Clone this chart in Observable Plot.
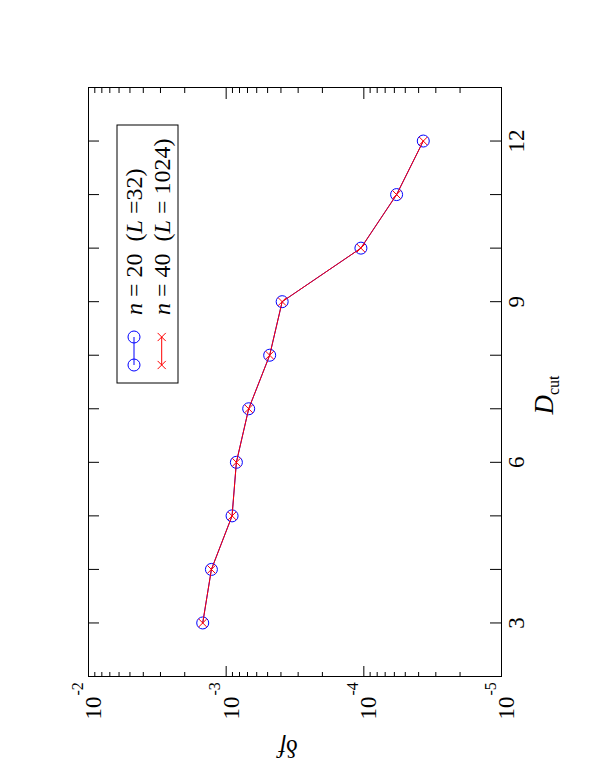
<!DOCTYPE html>
<html>
<head>
<meta charset="utf-8">
<script src="https://cdn.jsdelivr.net/npm/d3@7"></script>
<script src="https://cdn.jsdelivr.net/npm/@observablehq/plot@0.6"></script>
<style>
  html, body { margin: 0; padding: 0; background: #fff; }
  #page { position: relative; width: 590px; height: 767px; overflow: hidden; background: #fff; }
  /* the landscape figure is turned a quarter turn counter-clockwise onto the portrait page */
  #page svg {
    position: absolute; left: 0; top: 0;
    width: 767px; height: 590px; max-width: none;
    transform-origin: 0 0;
    transform: translate(0, 767px) rotate(-90deg);
  }
</style>
</head>
<body>
<div id="page"></div>
<script>
// truncation bond dimension
const dCut = [3, 4, 5, 6, 7, 8, 9, 10, 11, 12];
// relative error of the free energy, n = 20 (L = 32)
const deltaF20 = [1.48e-3, 1.28e-3, 9.06e-4, 8.43e-4, 6.86e-4, 4.83e-4, 3.92e-4, 1.05e-4, 5.78e-5, 3.70e-5];
// relative error of the free energy, n = 40 (L = 1024)
const deltaF40 = [1.48e-3, 1.28e-3, 9.06e-4, 8.43e-4, 6.86e-4, 4.83e-4, 3.92e-4, 1.05e-4, 5.78e-5, 3.70e-5];

// tick positions and labels
const dTicks = [3, 4, 5, 6, 7, 8, 9, 10, 11, 12];
const dLabels = [3, 6, 9, 12];
const decades = [1e-2, 1e-3, 1e-4, 1e-5];
const decadeExps = ["-2", "-3", "-4", "-5"];
const minorSteps = [2, 3, 4, 5, 6, 7, 8, 9];
const minorTicks = decades.slice(1).flatMap(p => minorSteps.map(k => k * p));

const series20 = dCut.map((d, i) => ({d, f: deltaF20[i]}));
const series40 = dCut.map((d, i) => ({d, f: deltaF40[i]}));

const W = 767, H = 590;
const mt = 88, mr = 88, mb = 89, ml = 90;
const innerW = W - ml - mr, innerH = H - mt - mb;
const font = "'Liberation Serif', 'Times New Roman', serif";
const blue = "#0000ff", red = "#ff0000";

const chart = Plot.plot({
  width: W, height: H,
  marginTop: mt, marginRight: mr, marginBottom: mb, marginLeft: ml,
  style: {fontFamily: font, background: "white", color: "black"},
  x: {domain: [2, 13]},
  y: {type: "log", domain: [1e-5, 1e-2], axis: null},
  marks: [
    // inward ticks on all four sides
    Plot.ruleX(dTicks, {x: d => d, insetTop: innerH - 11, stroke: "black"}),
    Plot.ruleX(dTicks, {x: d => d, insetBottom: innerH - 11, stroke: "black"}),
    Plot.ruleY(decades, {y: d => d, insetRight: innerW - 11, stroke: "black"}),
    Plot.ruleY(decades, {y: d => d, insetLeft: innerW - 11, stroke: "black"}),
    Plot.ruleY(minorTicks, {y: d => d, insetRight: innerW - 5, stroke: "black"}),
    Plot.ruleY(minorTicks, {y: d => d, insetLeft: innerW - 5, stroke: "black"}),
    // tick labels
    Plot.axisX({ticks: dLabels, tickSize: 0, tickPadding: 6, fontSize: 23, label: null, tickFormat: d => String(d)}),
    Plot.text(decades, {y: d => d, text: () => "10", frameAnchor: "left", textAnchor: "end", dx: -20, dy: 5, fontSize: 23, fill: "black"}),
    Plot.text(decades, {y: d => d, text: (d, i) => decadeExps[i], frameAnchor: "left", textAnchor: "start", dx: -19, dy: -11, fontSize: 16, fill: "black"}),
    // data
    Plot.line(series20, {x: "d", y: "f", stroke: blue, strokeWidth: 1}),
    Plot.dot(series20, {x: "d", y: "f", symbol: "circle", r: 6, stroke: blue, strokeWidth: 1, fill: "none"}),
    Plot.line(series40, {x: "d", y: "f", stroke: red, strokeWidth: 1}),
    Plot.dot(series40, {x: "d", y: "f", symbol: "times", r: 3.8, stroke: red, strokeWidth: 1}),
    Plot.frame({stroke: "black", strokeWidth: 1})
  ]
});

// axis titles and the key
const svg = d3.select(chart);

const yTitle = svg.append("text")
  .attr("transform", `translate(27,${mt + innerH / 2 - 6}) rotate(-90)`)
  .attr("text-anchor", "middle")
  .attr("font-family", font).attr("font-size", 25).attr("fill", "black");
yTitle.append("tspan").text("δ");
yTitle.append("tspan").attr("font-style", "italic").text("f");

const xTitle = svg.append("text")
  .attr("x", 372).attr("y", 553)
  .attr("text-anchor", "middle")
  .attr("font-family", font).attr("fill", "black");
xTitle.append("tspan").attr("font-style", "italic").attr("font-size", 27).text("D");
xTitle.append("tspan").attr("font-size", 16).attr("dy", 6).text("cut");

const key = svg.append("g").attr("font-family", font).attr("font-size", 24)
  .attr("fill", "black").attr("text-anchor", "start");
key.append("rect").attr("x", 384).attr("y", 117).attr("width", 258).attr("height", 61)
  .attr("fill", "white").attr("stroke", "black").attr("stroke-width", 1);

const keyRows = [
  {y: 134, color: blue, symbol: d3.symbolCircle, size: Math.PI * 36, n: "20", L: "32", gap: " ="},
  {y: 161.7, color: red, symbol: d3.symbolTimes, size: Math.PI * 3.8 * 3.8, n: "40", L: "1024", gap: " = "}
];
keyRows.forEach(row => {
  key.append("line").attr("x1", 402).attr("x2", 430).attr("y1", row.y).attr("y2", row.y)
    .attr("stroke", row.color).attr("stroke-width", 1);
  [402, 430].forEach(x => {
    key.append("path").attr("d", d3.symbol(row.symbol, row.size)())
      .attr("transform", `translate(${x},${row.y})`)
      .attr("fill", "none").attr("stroke", row.color).attr("stroke-width", 1);
  });
  const t = key.append("text").attr("x", 452).attr("y", row.y + 8)
    .attr("text-anchor", "start").style("white-space", "pre");
  t.append("tspan").attr("font-style", "italic").text("n");
  t.append("tspan").text(` = ${row.n}  (`);
  t.append("tspan").attr("font-style", "italic").text("L");
  t.append("tspan").text(`${row.gap}${row.L})`);
});

document.getElementById("page").appendChild(chart);
</script>
</body>
</html>
